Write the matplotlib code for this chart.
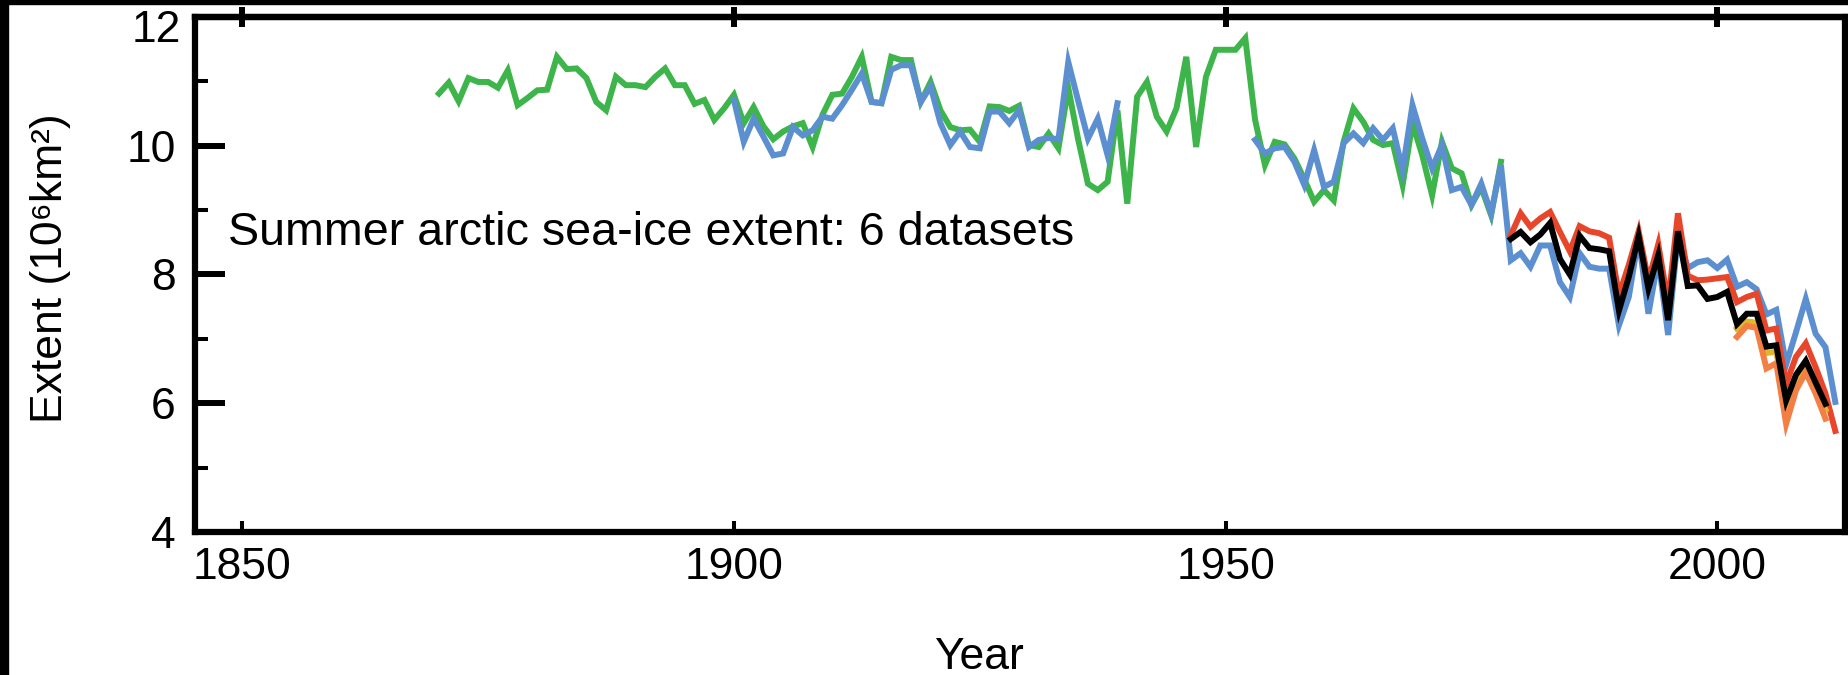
import matplotlib
matplotlib.use("Agg")  # headless
import matplotlib.pyplot as plt
import matplotlib.patches as mpatches
import matplotlib.transforms as mtransforms
from matplotlib.ticker import MultipleLocator

plt.rcParams["font.family"] = ["Liberation Sans", "DejaVu Sans"]

# --- data (10^6 km^2) ---
green_years = list(range(1870, 1979))
green_extent = [
    10.81, 10.98, 10.69, 11.05, 10.99, 10.99, 10.90, 11.17, 10.63, 10.74,
    10.86, 10.87, 11.38, 11.19, 11.20, 11.05, 10.68, 10.55, 11.07, 10.94,
    10.94, 10.91, 11.07, 11.20, 10.94, 10.94, 10.65, 10.71, 10.40, 10.58,
    10.79, 10.35, 10.60, 10.30, 10.10, 10.22, 10.30, 10.35, 9.98, 10.48,
    10.79, 10.81, 11.07, 11.38, 10.68, 10.66, 11.38, 11.33, 11.33, 10.68,
    10.99, 10.55, 10.29, 10.24, 10.25, 10.06, 10.61, 10.60, 10.54, 10.62,
    10.01, 9.98, 10.19, 9.96, 10.90, 10.10, 9.41, 9.31, 9.44, 10.55,
    9.10, 10.76, 10.99, 10.45, 10.22, 10.58, 11.38, 9.98, 11.07, 11.49,
    11.49, 11.49, 11.67, 10.40, 9.70, 10.06, 10.02, 9.80, 9.48, 9.13,
    9.31, 9.15, 10.06, 10.58, 10.37, 10.09, 10.01, 10.04, 9.39, 10.35,
    9.85, 9.23, 10.06, 9.65, 9.57, 9.08, 9.35, 8.92, 9.75,
]

blue_early_years = list(range(1900, 1940))
blue_early_extent = [
    10.71, 10.06, 10.42, 10.14, 9.85, 9.88, 10.29, 10.16, 10.24, 10.45,
    10.42, 10.63, 10.87, 11.12, 10.68, 10.66, 11.18, 11.25, 11.25, 10.68,
    10.92, 10.35, 10.01, 10.22, 9.98, 9.96, 10.53, 10.53, 10.35, 10.55,
    9.98, 10.09, 10.12, 10.10, 11.30, 10.70, 10.11, 10.42, 9.85, 10.66,
]

blue_late_years = list(range(1953, 2013))
blue_late_extent = [
    10.09, 9.88, 9.96, 9.98, 9.75, 9.39, 9.93, 9.36, 9.44, 10.04,
    10.19, 10.04, 10.27, 10.09, 10.27, 9.62, 10.63, 10.11, 9.65, 10.01,
    9.31, 9.36, 9.08, 9.41, 8.95, 9.70, 8.22, 8.33, 8.12, 8.45,
    8.45, 7.88, 7.65, 8.33, 8.12, 8.09, 8.09, 7.21, 7.65, 8.58,
    7.39, 8.25, 7.06, 8.60, 8.10, 8.19, 8.22, 8.10, 8.23, 7.81,
    7.88, 7.77, 7.38, 7.45, 6.60, 7.10, 7.62, 7.08, 6.87, 6.02,
]

red_years = list(range(1979, 2013))
red_extent = [
    8.61, 8.95, 8.74, 8.87, 8.97, 8.66, 8.36, 8.75, 8.67, 8.64,
    8.57, 7.68, 8.15, 8.67, 7.90, 8.47, 7.55, 8.95, 7.98, 7.91,
    7.92, 7.94, 7.96, 7.57, 7.65, 7.70, 7.13, 7.16, 6.30, 6.72,
    6.93, 6.56, 6.15, 5.57,
]

black_years = list(range(1979, 2012))
black_extent = [
    8.55, 8.66, 8.50, 8.62, 8.80, 8.24, 8.00, 8.60, 8.41, 8.39,
    8.36, 7.44, 7.96, 8.59, 7.78, 8.30, 7.29, 8.67, 7.82, 7.83,
    7.62, 7.65, 7.73, 7.23, 7.39, 7.39, 6.88, 6.90, 6.04, 6.44,
    6.66, 6.32, 5.99,
]

yellow_years = list(range(2002, 2012))
yellow_extent = [7.16, 7.27, 7.25, 6.78, 6.80, 5.90, 6.35, 6.55, 6.22, 5.90]

orange_years = list(range(2002, 2012))
orange_extent = [7.03, 7.20, 7.17, 6.54, 6.62, 5.68, 6.20, 6.48, 6.15, 5.76]

y_ticks = [4, 6, 8, 10, 12]
x_ticks = [1850, 1900, 1950, 2000]

GREEN = "#3db54a"
BLUE = "#5b8fd0"
RED = "#e8462a"
YELLOW = "#e2b62a"
ORANGE = "#f47f45"
LW = 4.3


def main() -> None:
    fig = plt.figure(figsize=(18.49, 6.75), dpi=100)
    ax = fig.add_axes([0.1055, 0.2119, 0.8924, 0.7630])

    style = dict(linewidth=LW, solid_joinstyle="miter")
    ax.plot(green_years, green_extent, color=GREEN, **style)
    ax.plot(blue_early_years, blue_early_extent, color=BLUE, **style)
    ax.plot(blue_late_years, blue_late_extent, color=BLUE, **style)
    ax.plot(red_years, red_extent, color=RED, **style)
    ax.plot(yellow_years, yellow_extent, color=YELLOW, **style)
    ax.plot(orange_years, orange_extent, color=ORANGE, **style)
    ax.plot(black_years, black_extent, color="black", **style)

    ax.set_xlim(1845.2, 2013.0)
    ax.set_ylim(4, 12)

    for side in ax.spines.values():
        side.set_linewidth(4.5)

    # y axis: long inward ticks on the left only
    ax.set_yticks(y_ticks)
    ax.set_yticklabels([str(t) if t != 12 else "" for t in y_ticks])
    ax.yaxis.set_minor_locator(MultipleLocator(1))
    ax.tick_params(axis="y", which="major", direction="in", length=21.6,
                   width=4.3, labelsize=32, pad=14)
    ax.tick_params(axis="y", which="minor", direction="in", length=9.4,
                   width=2.9)
    # the top label sits a little lower than its tick in the reference
    shift = mtransforms.ScaledTranslation(0, -0.14, fig.dpi_scale_trans)
    ax.text(-0.0085, 12, "12", fontsize=32, ha="right", va="center",
            transform=ax.get_yaxis_transform() + shift)

    # x axis: short inward ticks at the bottom, crossing ticks on top
    ax.set_xticks(x_ticks)
    ax.xaxis.set_minor_locator(MultipleLocator(10))
    ax.tick_params(axis="x", which="major", direction="in", length=8,
                   width=2.9, labelsize=32, pad=11)
    ax.tick_params(axis="x", which="minor", direction="in", length=2.5,
                   width=2.2)

    top = ax.secondary_xaxis("top")
    top.set_xticks(x_ticks)
    top.xaxis.set_minor_locator(MultipleLocator(10))
    top.tick_params(axis="x", which="major", direction="inout", length=14,
                    width=4.3, labeltop=False)
    top.tick_params(axis="x", which="minor", direction="inout", length=3,
                    width=2.5)
    top.spines["top"].set_linewidth(4.5)

    ax.set_ylabel("Extent (10\u2076km\u00b2)", fontsize=32)
    ax.yaxis.set_label_coords(-0.075, 0.513)
    ax.set_xlabel("Year", fontsize=32)
    ax.xaxis.set_label_coords(0.475, -0.204)

    ax.text(0.02, 0.557, "Summer arctic sea-ice extent: 6 datasets",
            fontsize=33.6, ha="left", va="baseline", transform=ax.transAxes)

    # black frame bits at the left and top edges of the scan
    fig.patches.append(mpatches.Rectangle((0, 0), 8 / 1849, 1, color="black",
                                          transform=fig.transFigure, figure=fig))
    fig.patches.append(mpatches.Rectangle((0, 1 - 4 / 675), 1, 4 / 675,
                                          color="black",
                                          transform=fig.transFigure, figure=fig))

    fig.savefig("out.png", dpi=100)
    plt.close(fig)


if __name__ == "__main__":
    main()
